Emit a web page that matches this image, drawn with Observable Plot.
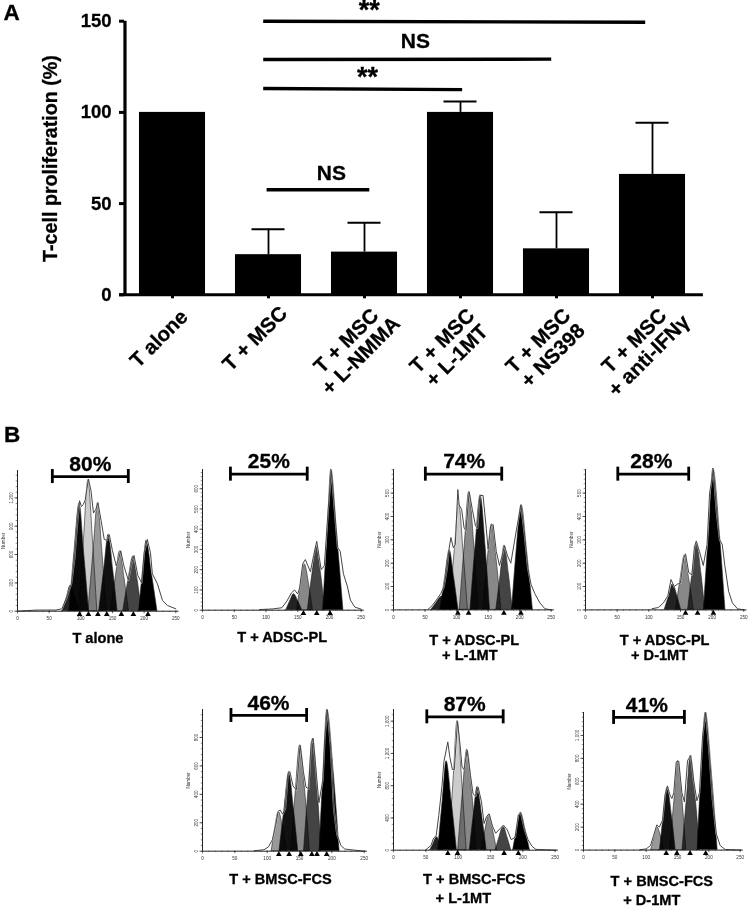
<!DOCTYPE html>
<html><head><meta charset="utf-8">
<script src="https://cdn.jsdelivr.net/npm/d3@7"></script>
<script src="https://cdn.jsdelivr.net/npm/@observablehq/plot@0.6"></script>
<style>
html,body{margin:0;padding:0;background:#fff}
#page{position:relative;width:750px;height:911px;overflow:hidden}
#page svg{position:absolute;background:transparent;font-family:"Liberation Sans",Arial,sans-serif}
#page svg [font-weight="bold"]{stroke:#000;stroke-width:.3px}
</style></head><body><div id="page"></div>
<script>
// ---- Panel A data ----
const barLabels = ["T alone","T + MSC","T + MSC\n+ L-NMMA","T + MSC\n+ L-1MT","T + MSC\n+ NS398","T + MSC\n+ anti-IFNγ"];
const barValues = [100,22,23.4,100,25.2,66];
const barTops   = [null,36,39.5,106,45.3,94.3];
const sigLines = [
  {x1:0.945,x2:4.924,y1:150,y2:149.4},
  {x1:0.945,x2:3.945,y1:129,y2:129.2},
  {x1:0.945,x2:3.017,y1:113.1,y2:112.5},
  {x1:0.98,x2:2.05,y1:57.6,y2:57.6}
];
const sigStars = [
  {t:"**",x:2.05,y:155.8},
  {t:"**",x:2.03,y:119.2}
];
const sigNS = [
  {t:"NS",x:2.53,y:139},
  {t:"NS",x:1.655,y:66.5}
];
// ---- Panel B data: modelled generations [fill, points], raw trace, markers ----
const peaksTAlone = [
 ["#222",[[71,0],[78,150],[84,272],[91,150],[98,0]]],
 ["#0a0a0a",[[82,0],[90,630],[98,1143],[105,630],[113,0]]],
 ["#ccc",[[97,0],[105,765],[112,1390],[119,765],[126,0]]],
 ["#999",[[112,0],[120,630],[127,1143],[134,630],[141,0]]],
 ["#111",[[129,0],[137,445],[144,812],[151,445],[158,0]]],
 ["#888",[[147,0],[155,350],[162,635],[169,350],[176,0]]],
 ["#444",[[167,0],[175,320],[183,579],[190,320],[196,0]]],
 ["#000",[[192,0],[198,410],[204,748],[212,410],[221,0]]]];
const peaksAdsc = [
 ["#222",[[132,0],[138,43],[144,79],[151,43],[157,0]]],
 ["#888",[[149,0],[155,125],[161,227],[168,125],[174,0]]],
 ["#444",[[166,0],[173,175],[180,316],[187,175],[193,0]]],
 ["#000",[[190,0],[197,380],[203,695],[212,380],[222,0]]]];
const peaksAdscL = [
 ["#222",[[60,0],[68,31],[76,56],[84,31],[91,0]]],
 ["#000",[[74,0],[82,140],[89,256],[96,140],[103,0]]],
 ["#ccc",[[89,0],[97,250],[104,456],[111,250],[118,0]]],
 ["#888",[[105,0],[113,278],[120,506],[128,278],[135,0]]],
 ["#111",[[122,0],[130,270],[138,491],[146,270],[153,0]]],
 ["#888",[[142,0],[149,202],[156,367],[164,202],[171,0]]],
 ["#444",[[163,0],[170,152],[176,276],[183,152],[189,0]]],
 ["#000",[[188,0],[195,247],[203,449],[212,247],[221,0]]]];
const peaksAdscD = [
 ["#222",[[125,0],[132,60],[138,110],[145,60],[151,0]]],
 ["#888",[[143,0],[150,129],[157,234],[164,129],[171,0]]],
 ["#444",[[162,0],[169,156],[176,284],[183,156],[189,0]]],
 ["#000",[[187,0],[195,333],[202,605],[212,333],[221,0]]]];
const peaksBmsc = [
 ["#999",[[107,0],[112,152],[118,277],[125,152],[131,0]]],
 ["#111",[[119,0],[127,307],[134,558],[141,307],[148,0]]],
 ["#888",[[137,0],[144,410],[151,746],[159,410],[166,0]]],
 ["#444",[[157,0],[164,436],[171,793],[178,436],[184,0]]],
 ["#000",[[181,0],[187,548],[193,997],[203,548],[212,0]]]];
const peaksBmscL = [
 ["#222",[[57,0],[62,90],[67,165],[72,90],[77,0]]],
 ["#000",[[69,0],[76,607],[82,1104],[90,607],[98,0]]],
 ["#ccc",[[86,0],[93,882],[99,1604],[106,882],[113,0]]],
 ["#888",[[100,0],[107,686],[114,1248],[122,686],[129,0]]],
 ["#111",[[118,0],[124,432],[130,785],[137,432],[144,0]]],
 ["#888",[[136,0],[142,243],[148,442],[154,243],[160,0]]],
 ["#444",[[158,0],[164,164],[170,298],[176,164],[182,0]]],
 ["#000",[[185,0],[191,257],[197,467],[204,257],[211,0]]]];
const peaksBmscD = [
 ["#999",[[108,0],[113,109],[118,198],[124,109],[129,0]]],
 ["#111",[[122,0],[128,300],[134,547],[141,300],[147,0]]],
 ["#888",[[138,0],[145,428],[151,779],[158,428],[164,0]]],
 ["#444",[[158,0],[165,453],[171,823],[179,453],[186,0]]],
 ["#000",[[182,0],[188,660],[195,1200],[205,660],[214,0]]]];
const rawTAlone = [[0,0],[30,12],[60,12],[70,25],[78,150],[85,290],[90,550],[94,900],[98,1170],[101,1110],[104,1130],[107,1180],[112,1400],[116,1280],[120,1040],[124,1080],[127,1150],[132,960],[137,760],[141,750],[145,810],[150,640],[156,480],[160,560],[163,640],[168,480],[175,330],[180,500],[184,590],[190,380],[196,300],[200,620],[205,760],[210,620],[213,395],[221,290],[229,113],[237,60],[250,25]];
const rawAdsc = [[90,3],[110,6],[125,12],[133,45],[140,85],[145,100],[150,80],[153,110],[158,230],[162,250],[166,220],[170,190],[175,270],[180,340],[184,260],[187,200],[192,220],[198,500],[203,690],[208,500],[213,310],[217,290],[222,180],[228,120],[233,50],[240,15],[250,5]];
const rawAdscL = [[55,3],[62,20],[70,50],[75,70],[80,100],[85,180],[88,260],[91,310],[95,265],[98,280],[102,515],[104,450],[108,430],[112,350],[115,340],[120,505],[125,430],[130,360],[133,350],[137,490],[142,490],[147,350],[150,260],[154,360],[158,365],[163,250],[168,190],[172,230],[176,275],[181,230],[186,200],[196,360],[202,450],[208,320],[213,180],[218,110],[224,70],[232,30],[240,5],[250,0]];
const rawAdscD = [[105,5],[115,10],[123,30],[130,60],[135,130],[140,100],[145,110],[150,115],[155,220],[158,240],[163,160],[168,150],[172,270],[175,295],[180,250],[186,190],[192,280],[196,500],[202,600],[207,420],[212,300],[216,280],[220,190],[226,80],[232,30],[240,5],[250,0]];
const rawBmsc = [[80,3],[95,10],[102,30],[108,80],[113,180],[117,280],[120,290],[124,260],[128,300],[132,540],[135,560],[140,460],[145,430],[147,520],[151,745],[156,560],[160,450],[164,440],[168,760],[171,795],[175,600],[180,340],[186,500],[189,800],[193,995],[198,750],[203,300],[208,120],[214,40],[220,15],[250,0]];
const rawBmscL = [[50,5],[58,60],[62,150],[66,180],[70,430],[75,800],[78,1100],[84,1343],[87,1160],[91,1000],[94,1000],[99,1600],[103,1300],[106,1030],[109,1000],[114,1240],[119,930],[123,700],[127,670],[131,780],[136,600],[140,330],[144,420],[148,450],[153,300],[158,210],[165,270],[170,310],[176,250],[182,130],[188,160],[193,440],[197,460],[203,250],[208,130],[214,50],[220,10],[250,0]];
const rawBmscD = [[90,3],[100,10],[107,40],[112,130],[117,220],[121,200],[126,260],[130,480],[134,560],[138,480],[141,450],[144,500],[148,770],[152,775],[157,500],[161,420],[166,780],[171,825],[176,600],[181,430],[185,500],[190,1000],[195,1200],[200,900],[206,440],[212,140],[218,40],[226,5],[250,0]];

const FONT = '"Liberation Sans",Arial,sans-serif';
const page = document.getElementById("page");

// ---- Panel A ----
const bars = barValues.map((v,i)=>({i,v,top:barTops[i],label:barLabels[i]}));
const errBars = bars.filter(d=>d.top!=null);
const single = bars.filter(d=>!d.label.includes("\n"));
const double = bars.filter(d=>d.label.includes("\n"));
const panelA = Plot.plot({
  width:750,height:911,marginLeft:124,marginRight:50,marginTop:20.7,marginBottom:616.7,
  style:{fontFamily:FONT,background:"transparent"},
  x:{domain:[-0.5,5.5]},
  y:{domain:[0,150]},
  marks:[
    Plot.rectY(bars,{x1:d=>d.i-0.344,x2:d=>d.i+0.344,y1:()=>0,y2:"v",fill:"black"}),
    Plot.ruleX(errBars,{x:"i",y1:"v",y2:"top",stroke:"black",strokeWidth:1.8}),
    Plot.ruleY(errBars,{y:"top",x1:d=>d.i-0.172,x2:d=>d.i+0.172,stroke:"black",strokeWidth:2}),
    Plot.ruleY([0],{x1:-0.552,x2:5.53,stroke:"black",strokeWidth:3}),
    Plot.ruleX([-0.495],{y1:0,y2:150,stroke:"black",strokeWidth:3.2}),
    Plot.axisY([0,50,100,150],{tickSize:5,strokeWidth:3,stroke:"black",tickPadding:8,fontSize:18.5,fontWeight:"bold",fill:"black",label:null}),
    Plot.axisX(d3.range(6),{tickSize:4,strokeWidth:3,stroke:"black",tickFormat:()=>"",label:null}),
    Plot.text(["T-cell proliferation (%)"],{x:()=>-0.5,y:()=>74.7,dx:-74,rotate:-90,fontSize:19.7,fontWeight:"bold",fill:"black"}),
    Plot.text(single,{x:"i",y:()=>0,text:"label",rotate:-45,dx:-13.5,dy:44,fontSize:20.5,fontWeight:"bold",fill:"black"}),
    Plot.text(double,{x:"i",y:()=>0,text:"label",rotate:-45,dx:-11,dy:53.5,fontSize:20.5,lineHeight:1.02,fontWeight:"bold",fill:"black"}),
    Plot.link(sigLines,{x1:"x1",x2:"x2",y1:"y1",y2:"y2",stroke:"black",strokeWidth:3.4}),
    Plot.text(sigStars,{x:"x",y:"y",text:"t",fontSize:27,fontWeight:"bold",fill:"black"}),
    Plot.text(sigNS,{x:"x",y:"y",text:"t",fontSize:21,fontWeight:"bold",fill:"black"}),
    Plot.text(["A"],{frameAnchor:"top-left",dx:-121,dy:-17,fontSize:22.5,fontWeight:"bold",fill:"black"}),
    Plot.text(["B"],{frameAnchor:"top-left",dx:-120.5,dy:405,fontSize:22.5,fontWeight:"bold",fill:"black"})
  ]
});
panelA.style.left="0px";panelA.style.top="0px";
page.appendChild(panelA);

// ---- Panel B layout ----
const panels = [
 {peaks:peaksTAlone,raw:rawTAlone,marks:[98,112,127,141,164,183,206],yMax:1490,yTicks:[0,300,600,900,1200],yMinor:60,
  bracket:[55,175,1426],pct:"80%",pctX:115,captions:[["T alone",127,27.3]],x0:16.7,x250:175,yBase:610.7,yTop:470},
 {peaks:peaksAdsc,raw:rawAdsc,marks:[159,180,201],yMax:695,yTicks:[0,100,200,300,400,500,600],yMinor:20,
  bracket:[44,165,672],pct:"25%",pctX:104.5,captions:[["T + ADSC-PL",125.5,27]],x0:202.3,x250:361,yBase:610,yTop:469.3},
 {peaks:peaksAdscL,raw:rawAdscL,marks:[102,119,175,202],yMax:601,yTicks:[0,100,200,300,400,500],yMinor:20,
  bracket:[50.5,171.6,581],pct:"74%",pctX:112,captions:[["T + ADSC-PL",128,30.6],["+ L-1MT",121,45.6]],x0:393.3,x250:551,yBase:609.7,yTop:469.3},
 {peaks:peaksAdscD,raw:rawAdscD,marks:[158,177,202],yMax:601,yTicks:[0,100,200,300,400,500],yMinor:20,
  bracket:[51,163,581],pct:"28%",pctX:104,captions:[["T + ADSC-PL",125,30.6],["+ D-1MT",117,45.6]],x0:585,x250:743.3,yBase:609.7,yTop:469.3},
 {peaks:peaksBmsc,raw:rawBmsc,marks:[118,134,152,169,177,192],yMax:997,yTicks:[0,200,400,600,800],yMinor:40,
  bracket:[44,161,955],pct:"46%",pctX:102,captions:[["T + BMSC-FCS",120.5,28.3]],x0:202.3,x250:364,yBase:851,yTop:709.3},
 {peaks:peaksBmscL,raw:rawBmscL,marks:[84,99,171,193],yMax:1745,yTicks:[0,400,800,1200,1600],yMinor:80,
  bracket:[51.5,169.6,1654],pct:"87%",pctX:110,captions:[["T + BMSC-FCS",125,29.3],["+ L-1MT",108,48.3]],x0:393.3,x250:555,yBase:850,yTop:709.3},
 {peaks:peaksBmscD,raw:rawBmscD,marks:[132,149,170,195],yMax:1200,yTicks:[0,200,400,600,800,1000],yMinor:40,
  bracket:[48,161,1157],pct:"41%",pctX:101,captions:[["T + BMSC-FCS",125,31],["+ D-1MT",109,50]],x0:583.3,x250:740,yBase:849.3,yTop:711.7}
];
const mL=24,mR=7,mT=30,mB=64,xMajor=d3.range(0,251,50),xMinor=d3.range(0,251,10);
for(const p of panels){
  const perPx=p.yMax/(p.yBase-p.yTop);
  const cap=7*perPx;
  const [bx1,bx2,by]=p.bracket;
  const minor=d3.range(0,p.yMax+1,p.yMinor);
  const svg=Plot.plot({
    width:p.x250-p.x0+mL+mR,height:p.yBase-p.yTop+mT+mB,
    marginLeft:mL,marginRight:mR,marginTop:mT,marginBottom:mB,
    style:{fontFamily:FONT,background:"transparent",overflow:"visible"},
    x:{domain:[0,250]},y:{domain:[0,p.yMax]},
    marks:[
      ...p.peaks.map(([fill,pts])=>Plot.areaY(pts,{x:d=>d[0],y:d=>d[1],fill,stroke:"#222",strokeWidth:0.6,curve:"monotone-x",mixBlendMode:"multiply"})),
      Plot.line(p.raw,{x:d=>d[0],y:d=>d[1],stroke:"#fff",strokeWidth:1.8,strokeOpacity:0.55}),
      Plot.line(p.raw,{x:d=>d[0],y:d=>d[1],stroke:"#444",strokeWidth:1}),
      Plot.ruleY([0],{x1:0,x2:255,stroke:"#222",strokeWidth:1}),
      Plot.ruleX([0],{y1:0,y2:p.yMax,stroke:"#222",strokeWidth:1}),
      Plot.axisX(xMajor,{tickSize:2.5,tickPadding:3.5,fontSize:4.6,fill:"#333",stroke:"#222",strokeWidth:0.7,label:null}),
      Plot.axisX(xMinor,{tickSize:1.3,stroke:"#222",strokeWidth:0.5,tickFormat:()=>"",label:null}),
      Plot.axisY(p.yTicks,{tickSize:2.5,tickPadding:2.5,tickRotate:-90,fontSize:4.6,fill:"#333",stroke:"#222",strokeWidth:0.7,label:null}),
      Plot.axisY(minor,{tickSize:1.3,stroke:"#222",strokeWidth:0.5,tickFormat:()=>"",label:null}),
      Plot.text(["Number"],{x:()=>0,y:()=>p.yMax/2,dx:-14,rotate:-90,fontSize:4.6,fill:"#333"}),
      Plot.dot(p.marks,{x:d=>d,y:()=>0,dy:3.2,symbol:"triangle",r:2.1,fill:"black"}),
      Plot.ruleY([by],{x1:bx1,x2:bx2,stroke:"black",strokeWidth:2.8}),
      Plot.ruleX([bx1,bx2],{y1:by-cap,y2:by+cap,stroke:"black",strokeWidth:2.8}),
      Plot.text([p.pct],{x:()=>p.pctX,y:()=>by,dy:-12.5,fontSize:21,fontWeight:"bold",fill:"black"}),
      ...p.captions.map(([t,x,dy])=>Plot.text([t],{x:()=>x,y:()=>0,dy,fontSize:14.6,fontWeight:"bold",fill:"black"}))
    ]
  });
  svg.style.left=(p.x0-mL)+"px";
  svg.style.top=(p.yTop-mT)+"px";
  page.appendChild(svg);
}
</script></body></html>
